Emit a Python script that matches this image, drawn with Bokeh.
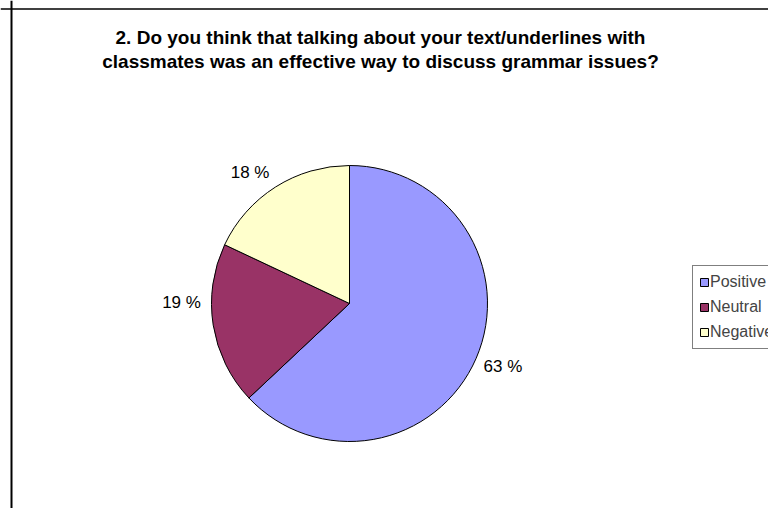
import math
from bokeh.plotting import figure
from bokeh.models import ColumnDataSource, Range1d, Span, Label, Legend, LegendItem
from bokeh.core.properties import value
from bokeh.embed import file_html
from bokeh.resources import INLINE

# ---- data ----
categories = ["Positive", "Neutral", "Negative"]
percentages = [63, 19, 18]
colors = ["#9999FF", "#993366", "#FFFFCC"]
title_lines = [
    "2. Do you think that talking about your text/underlines with",
    "classmates was an effective way to discuss grammar issues?",
]

W, H = 768, 508
FONT = "Liberation Sans"

p = figure(width=W, height=H, output_backend="svg", toolbar_location=None,
           x_range=Range1d(0, W), y_range=Range1d(0, H),
           x_axis_type=None, y_axis_type=None, min_border=0,
           outline_line_color=None, background_fill_color="white",
           border_fill_color="white")
p.grid.visible = False

# pie geometry (data units == pixels)
cx, cy, r = 349, 205, 138
label_r = 165
label_nudge = [(2, 3), (-5, 27), (-11, -8)]  # small placement tweaks (px)
total = sum(percentages)
starts, ends, lx, ly, texts = [], [], [], [], []
acc = 0.0
for v, (nx, ny) in zip(percentages, label_nudge):
    a0 = math.pi / 2 - 2 * math.pi * acc / total
    acc += v
    a1 = math.pi / 2 - 2 * math.pi * acc / total
    starts.append(a0)
    ends.append(a1)
    mid = (a0 + a1) / 2
    lx.append(cx + label_r * math.cos(mid) + nx)
    ly.append(cy + label_r * math.sin(mid) + ny)
    texts.append(f"{v} %")

src = ColumnDataSource(dict(cat=categories, start=starts, end=ends, color=colors,
                            lx=lx, ly=ly, txt=texts))

wedges = p.wedge(x=cx, y=cy, radius=r, start_angle="start", end_angle="end",
                 direction="clock", fill_color="color", line_color="black",
                 line_width=1, source=src)

p.text(x="lx", y="ly", text="txt", source=src, text_font=value(FONT),
       text_font_size="17px", text_align="center", text_baseline="middle",
       text_color="black")

# title
for i, line in enumerate(title_lines):
    p.add_layout(Label(x=380, y=471 - 24 * i, text=line, text_font=FONT,
                       text_font_size="19px", text_font_style="bold",
                       text_align="center", text_baseline="middle",
                       text_color="black"))

# chart border (left and top visible)
p.add_layout(Span(location=11, dimension="height", line_color="black", line_width=2))
p.add_layout(Span(location=499.5, dimension="width", line_color="black", line_width=1.5))

items = [LegendItem(label=c, renderers=[wedges], index=i) for i, c in enumerate(categories)]
legend = Legend(items=items, location=(692, 508 - 267 - 82),
                label_text_font=FONT, label_text_font_size="16px",
                glyph_width=10, glyph_height=10, label_height=20,
                spacing=5, padding=6, margin=0, label_standoff=1,
                border_line_color="black", border_line_width=1,
                background_fill_color="white", background_fill_alpha=1.0)
p.add_layout(legend)

open("out.html", "w").write(file_html(p, INLINE))
